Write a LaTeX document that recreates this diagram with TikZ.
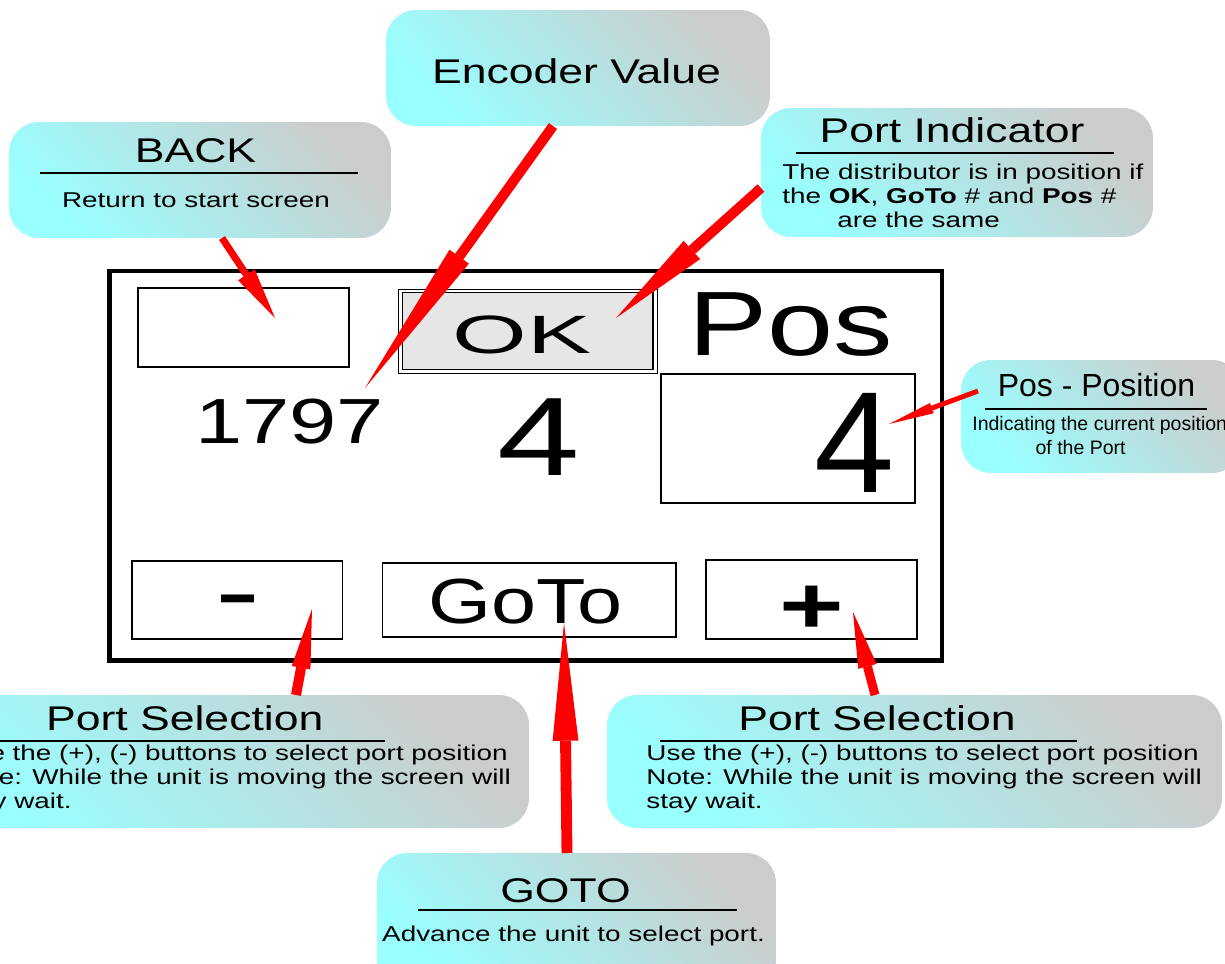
\documentclass[tikz,border=0pt]{standalone}
\usepackage{fontspec}
\setmainfont{Liberation Sans}
\usetikzlibrary{arrows.meta}
\definecolor{bubcyan}{HTML}{99FFFF}
\definecolor{bubgray}{HTML}{CCCCCC}
\definecolor{okgray}{HTML}{E6E6E6}

\begin{document}
\begin{tikzpicture}[x=0.02cm, y=-0.02cm,
    bubble/.style={shade, top color=bubgray, bottom color=bubcyan, shading angle=-45,
        rounded corners=0.6cm, inner sep=0pt},
    title/.style={anchor=base, inner sep=0pt, xscale=1.3, font=\fontsize{19.5}{23}\selectfont},
    body/.style={anchor=base west, inner sep=0pt, xscale=1.3, align=left,
        font=\fontsize{12.2}{13.6}\selectfont},
    rule/.style={line width=0.8pt},
    btn/.style={line width=0.7pt},
    scr/.style={anchor=base, inner sep=0pt, font=\fontsize{#1}{#1}\selectfont},
    callarrow/.style n args={3}{draw=red, fill=red, line width=#1,
        -{Triangle[length=#2, width=#3, line width=0pt]}}]
\useasboundingbox (0,0) rectangle (1225,964);
\clip (0,0) rectangle (1225,964);

% the screen
\draw[line width=2.8pt] (109.5,271) rectangle (942,660.5);
\draw[btn] (138,288) rectangle (349,367);
\draw[line width=0.5pt] (398,289) rectangle (657,373);
\draw[btn, fill=okgray] (402.5,292.5) rectangle (653,369.5);
\draw[btn] (661,374) rectangle (915,503);
\draw[btn] (132,561) rectangle (342.5,639);
\draw[btn] (382.5,563) rectangle (676,637);
\draw[btn] (706,560) rectangle (917,639);

\node[scr=30.7, xscale=1.78] (ok) at (522,353) {OK};
\node[scr=52, xscale=1.3] (pos) at (791,355) {Pos};
\node[scr=36.3, xscale=1.33] (enc) at (289.5,443) {1797};
\node[scr=63.5, xscale=1.33] (gotonum) at (539,475) {4};
\node[scr=82] (posnum) at (855,492) {4};
\node[scr=36.3, xscale=1.27] (gotobtn) at (525.5,623) {GoTo};
\node[scr=57, xscale=1.35] (minus) at (238.5,625) {-};
\node[scr=46, xscale=1.37, font=\fontsize{46}{46}\selectfont\bfseries] (plus) at (812,633) {+};

% callouts
\node[bubble, minimum width=7.68cm, minimum height=2.32cm] (encb) at (578,68) {};
\node[title] (enct) at (576.5,83) {Encoder Value};

\node[bubble, minimum width=7.64cm, minimum height=2.32cm] (backb) at (200,180) {};
\node[title] (backt) at (195.5,162) {BACK};
\draw[rule] (40,173) -- (358,173);
\node[title, font=\fontsize{12.2}{13.6}\selectfont] (backd) at (196,207) {Return to start screen};

\node[bubble, minimum width=7.84cm, minimum height=2.58cm] (pindb) at (957,172.5) {};
\node[title] (pindt) at (952,142) {Port Indicator};
\draw[rule] (796,153) -- (1114,153);
\node[body] (pindd) at (782,227) {The distributor is in position if\\
    the \textbf{OK}, \textbf{GoTo} \# and \textbf{Pos} \#\\
    \hspace*{24pt}are the same};

\node[bubble, minimum width=5.62cm, minimum height=2.26cm] (pposb) at (1101.5,416.5) {};
\node[title, xscale=1/1.3, font=\fontsize{18.2}{20}\selectfont] (ppost) at (1096.5,396) {Pos - Position};
\draw[rule] (985,409) -- (1207,409);
\node[body, xscale=1/1.3, font=\fontsize{11.1}{13.6}\selectfont] (pposd) at (972,454)
    {Indicating the current position\\ \hspace*{36pt}of the Port};

\node[bubble, minimum width=12.28cm, minimum height=2.66cm] (pselb) at (222,761.5) {};
\node[title] (pselt) at (184.75,730) {Port Selection};
\draw[rule] (-32,741) -- (385,741);
\node[body] (pseld) at (-45,808) {Use the (+), (-) buttons to select port position\\
    Note: While the unit is moving the screen will\\ stay wait.};

\node[bubble, minimum width=12.3cm, minimum height=2.66cm] (psetb) at (914.5,761.5) {};
\node[title] (psett) at (877,730) {Port Selection};
\draw[rule] (660,741) -- (1077,741);
\node[body] (psetd) at (646,808) {Use the (+), (-) buttons to select port position\\
    Note: While the unit is moving the screen will\\ stay wait.};

\node[bubble, minimum width=7.98cm, minimum height=2.74cm] (gotob) at (576.5,921.5) {};
\node[title] (gotot) at (565.5,902) {GOTO};
\draw[rule] (418,910) -- (737,910);
\node[title, font=\fontsize{12.2}{13.6}\selectfont] (gotod) at (573.5,941) {Advance the unit to select port.};

% arrows
\coordinate (backfrom) at (222,238);   \coordinate (backto) at (275,318);
\coordinate (encfrom) at (553,126);    \coordinate (encto) at (365,388);
\coordinate (pindfrom) at (761,188);   \coordinate (pindto) at (616,318);
\coordinate (pposfrom) at (978,391);   \coordinate (pposto) at (889,424);
\coordinate (minusfrom) at (296,695);  \coordinate (minusto) at (312,609);
\coordinate (gotofrom) at (567,853);   \coordinate (gototo) at (564,623);
\coordinate (plusfrom) at (875,695);   \coordinate (plusto) at (853,612);
\draw[callarrow={4pt}{29.5pt}{11.3pt}] (backfrom) -- (backto);
\draw[callarrow={5.7pt}{92pt}{13.6pt}] (encfrom) -- (encto);
\draw[callarrow={5.7pt}{58pt}{14pt}] (pindfrom) -- (pindto);
\draw[callarrow={2.8pt}{26pt}{6.2pt}] (pposfrom) -- (pposto);
\draw[callarrow={5.7pt}{34pt}{10.8pt}] (minusfrom) -- (minusto);
\draw[callarrow={6.2pt}{67pt}{14.7pt}] (gotofrom) -- (gototo);
\draw[callarrow={5.1pt}{32pt}{10.8pt}] (plusfrom) -- (plusto);
\end{tikzpicture}
\end{document}
